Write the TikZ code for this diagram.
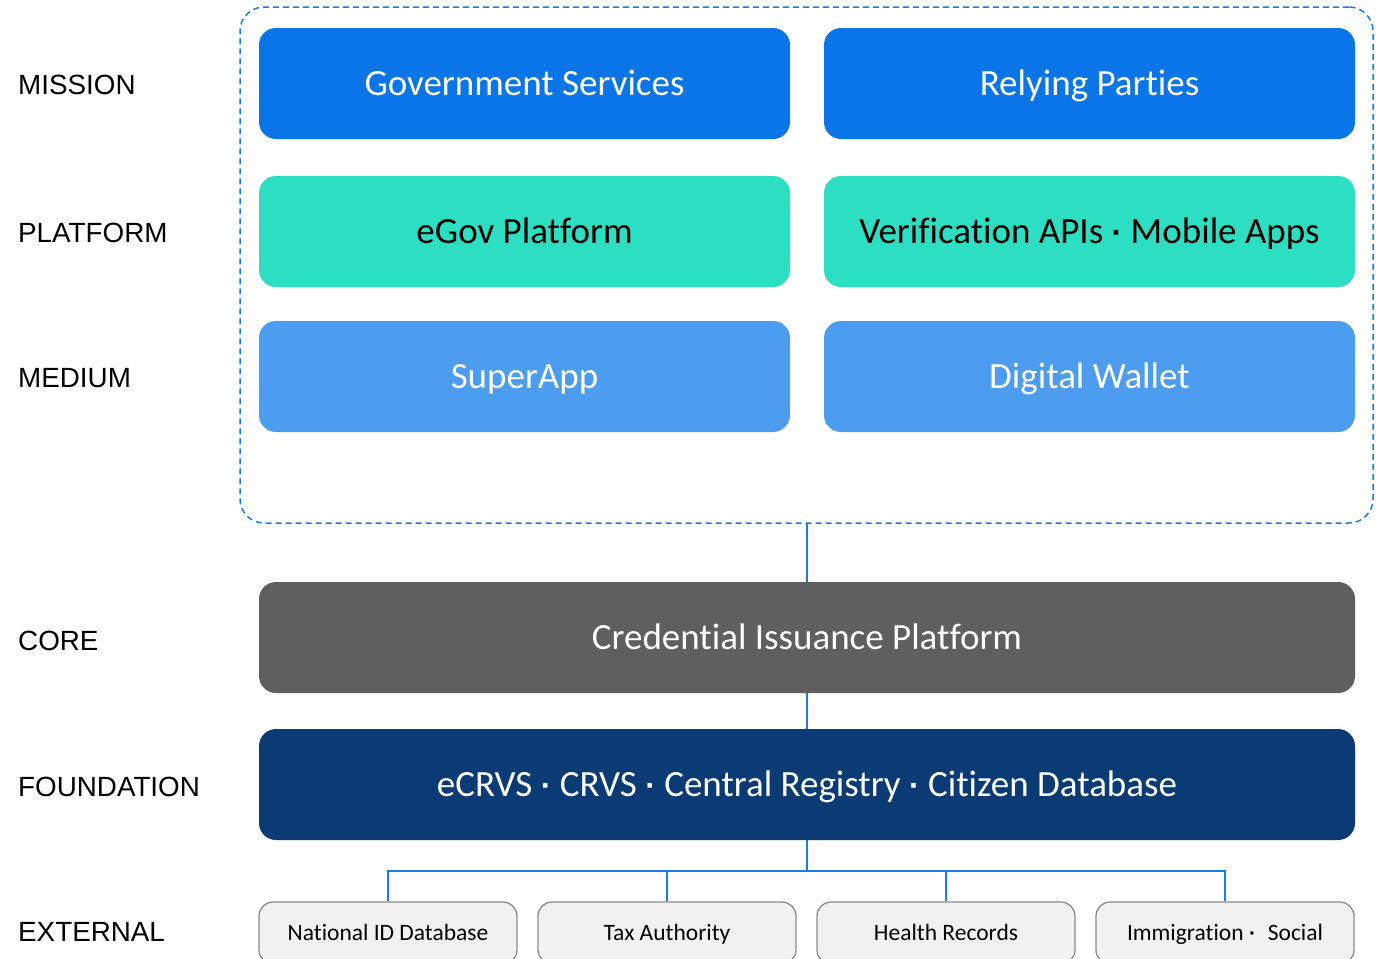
\documentclass[tikz,border=0pt]{standalone}
\usepackage{fontspec}
\setmainfont[Ligatures={NoCommon}]{Carlito}
\newfontfamily\labelfont{Liberation Sans}
\definecolor{mission}{HTML}{0A75E8}
\definecolor{platform}{HTML}{2CDFC3}
\definecolor{medium}{HTML}{4C9CEF}
\definecolor{core}{HTML}{5F5F5F}
\definecolor{found}{HTML}{0A3B75}
\definecolor{extfill}{HTML}{F1F1F1}
\definecolor{extline}{HTML}{8C8C8C}
\definecolor{link}{HTML}{1A7AE6}
\newcommand{\bigdot}{{\labelfont\bfseries\fontsize{32}{38}\selectfont·}}
\newcommand{\smalldot}{{\labelfont\bfseries\fontsize{21}{24}\selectfont·}}
\begin{document}
\begin{tikzpicture}[x=1pt,y=-1pt,
  box/.style={rounded corners=17pt, inner sep=0pt, text height=30pt, text depth=6pt, font=\fontsize{37}{40}\selectfont},
  extbox/.style={rounded corners=14pt, inner sep=0pt, text height=19pt, text depth=4pt, draw=extline, line width=1.3pt, fill=extfill, font=\fontsize{23.5}{26}\selectfont},
  layer/.style={anchor=west, inner sep=0pt, font=\labelfont\fontsize{27.8}{30}\selectfont},
  conn/.style={draw=link, line width=1.8pt}]
\useasboundingbox (0,0) rectangle (1385,959);
\begin{scope}
\clip (0,0) rectangle (1385,959);
% container
\node[draw=link, dashed, dash pattern=on 6pt off 4pt, line width=1.5pt, rounded corners=24pt, minimum width=1133pt, minimum height=516pt, inner sep=0pt] (cont) at (806.5,265) {};
% rows
\node[box, fill=mission, text=white, minimum width=531pt, minimum height=111pt] (gov) at (524.5,83.5) {Government Services};
\node[box, fill=mission, text=white, minimum width=531pt, minimum height=111pt] (rp) at (1089.5,83.5) {Relying Parties};
\node[box, fill=platform, text=black, minimum width=531pt, minimum height=111pt] (egov) at (524.5,231.5) {eGov Platform};
\node[box, fill=platform, text=black, minimum width=531pt, minimum height=111pt] (vapi) at (1089.5,231.5) {Verification APIs \bigdot{} Mobile Apps};
\node[box, fill=medium, text=white, minimum width=531pt, minimum height=111pt] (super) at (524.5,376.5) {SuperApp};
\node[box, fill=medium, text=white, minimum width=531pt, minimum height=111pt] (wallet) at (1089.5,376.5) {Digital Wallet};
\node[box, fill=core, text=white, minimum width=1096pt, minimum height=111pt] (cip) at (807,637.5) {Credential Issuance Platform};
\node[box, fill=found, text=white, minimum width=1096pt, minimum height=111pt] (fnd) at (807,784.5) {eCRVS \bigdot{} CRVS \bigdot{} Central Registry \bigdot{} Citizen Database};
% external
\node[extbox, minimum width=258pt, minimum height=62pt] (nid) at (388,933) {National ID Database};
\node[extbox, minimum width=258pt, minimum height=62pt] (tax) at (667,933) {Tax Authority};
\node[extbox, minimum width=258pt, minimum height=62pt] (health) at (946,933) {Health Records};
\node[extbox, minimum width=258pt, minimum height=62pt] (immi) at (1225,933) {Immigration \smalldot\; Social};
% labels
\node[layer] (lmission) at (18,85) {MISSION};
\node[layer] (lplatform) at (18,233) {PLATFORM};
\node[layer] (lmedium) at (18,378) {MEDIUM};
\node[layer] (lcore) at (18,641) {CORE};
\node[layer] (lfound) at (18,787) {FOUNDATION};
\node[layer] (lext) at (18,932) {EXTERNAL};
% connectors
\coordinate (bus) at (807,871);
\draw[conn] (cont.south -| cip.north) -- (cip.north);
\draw[conn] (cip.south) -- (fnd.north);
\draw[conn] (fnd.south) -- (bus);
\draw[conn] (nid.north) |- (bus) -| (immi.north);
\draw[conn] (tax.north) -- (tax.north |- bus);
\draw[conn] (health.north) -- (health.north |- bus);
\end{scope}
\end{tikzpicture}
\end{document}
